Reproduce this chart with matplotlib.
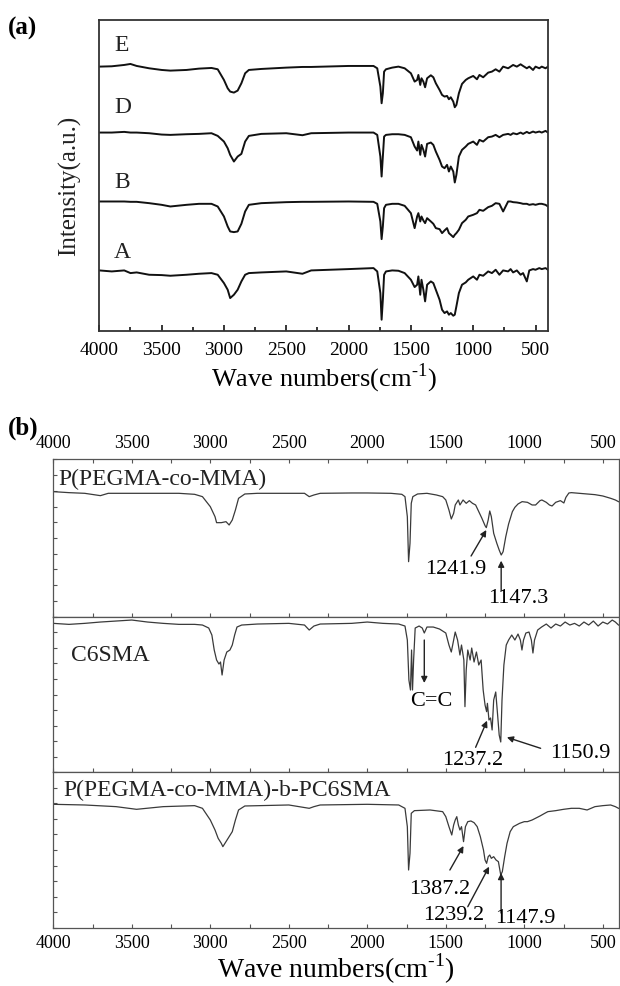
import matplotlib
matplotlib.use("Agg")
import numpy as np
import matplotlib.pyplot as plt
from matplotlib.ticker import MultipleLocator

plt.rcParams['font.family'] = ['Liberation Serif', 'DejaVu Serif']
plt.rcParams['mathtext.fontset'] = 'custom'
plt.rcParams['mathtext.rm'] = 'Liberation Serif'

# ---- (a) four samples, shared wavenumber grid, intensity (a.u.) relative to baseline
wn_a = [4000, 3900, 3800, 3750, 3700, 3600, 3500, 3430, 3300, 3200,
        3100, 3050, 3000, 2970, 2950, 2920, 2890, 2860, 2830, 2800,
        2700, 2500, 2370, 2300, 2000, 1800, 1770, 1745, 1735, 1725,
        1715, 1700, 1650, 1600, 1550, 1500, 1470, 1450, 1440, 1425,
        1415, 1400, 1386, 1370, 1340, 1320, 1300, 1270, 1250, 1230,
        1210, 1195, 1180, 1160, 1148, 1135, 1115, 1090, 1060, 1040,
        1000, 970, 950, 920, 880, 850, 820, 790, 760, 720,
        700, 680, 650, 620, 600, 570, 550, 520, 500, 470,
        450, 420, 400]

spec_E = [-2, -1, 3, 6, 0, -7, -12, -14, -12, -8,
          -6, -10, -42, -67, -77, -80, -74, -52, -22, -12,
          -9, -5, -3, -3, 0, 0, -7, -62, -112, -82,
          -17, -10, -5, -2, -7, -22, -47, -42, -27, -57,
          -37, -47, -64, -37, -28, -34, -52, -72, -87, -92,
          -90, -100, -94, -107, -124, -117, -82, -54, -42, -37,
          -30, -40, -27, -34, -20, -17, -10, -17, -2, -7,
          -2, 3, -2, 5, 0, -7, -2, -12, -2, -7,
          -2, -7, -2]
spec_D = [0, 0, 2, 0, 0, -2, -6, -7, -5, -4,
          -2, -10, -27, -47, -67, -87, -72, -64, -27, -10,
          -4, -2, -8, -2, 0, 0, -7, -72, -132, -72,
          -12, -7, -5, -5, -7, -14, -42, -54, -27, -67,
          -37, -52, -72, -34, -30, -37, -57, -82, -102, -107,
          -97, -117, -102, -117, -150, -127, -72, -52, -42, -34,
          -27, -37, -22, -27, -14, -12, -7, -14, -7, -4,
          -7, -2, -5, 0, -4, 2, -2, 3, 0, 3,
          0, 5, 0]
spec_B = [0, 0, 0, -1, -1, -5, -10, -15, -10, -7,
          -7, -15, -45, -75, -90, -92, -90, -67, -30, -10,
          -5, -2, -1, -1, 0, -1, -7, -60, -113, -75,
          -20, -10, -7, -7, -13, -35, -80, -45, -35, -60,
          -45, -57, -65, -50, -60, -67, -80, -83, -95, -87,
          -80, -95, -100, -107, -100, -95, -85, -65, -55, -45,
          -40, -35, -25, -28, -17, -13, -5, -7, -30, 0,
          0, -2, -3, -5, -7, -7, -10, -8, -10, -7,
          -7, -10, -15]
spec_A = [-2, -5, -2, -10, -8, -15, -16, -18, -15, -12,
          -10, -15, -40, -60, -85, -75, -60, -35, -15, -10,
          -8, -5, -12, -2, 2, 5, -5, -70, -150, -90,
          -15, -5, -2, -3, -10, -30, -52, -45, -20, -75,
          -30, -60, -95, -45, -35, -40, -60, -90, -120, -130,
          -125, -135, -130, -138, -135, -110, -70, -45, -38, -30,
          -20, -30, -15, -18, -5, -10, 0, -15, -2, -5,
          2, -8, -2, -15, -10, -35, -2, 2, 0, 5,
          2, 5, 0]
names_a = ['E', 'D', 'B', 'A']

# ---- (b) (wavenumber, intensity a.u.) pairs
pegma_mma = [
    (4000, 2), (3900, -1), (3800, -3), (3700, -10), (3650, -3), (3400, -3),
    (3200, -3), (3100, -6), (3050, -13), (3000, -43), (2970, -73), (2960, -91),
    (2930, -91), (2900, -88), (2880, -98), (2860, -83), (2840, -53), (2820, -18),
    (2780, -5), (2700, -3), (2500, -3), (2400, -3), (2370, -13), (2340, -8),
    (2300, -3), (2100, -2), (2000, -2), (1850, -3), (1780, -6), (1760, -13),
    (1745, -73), (1737, -208), (1728, -153), (1720, -33), (1710, -13), (1680, -5),
    (1620, -3), (1560, -8), (1520, -13), (1500, -23), (1480, -53), (1465, -80),
    (1450, -63), (1440, -38), (1420, -23), (1410, -38), (1390, -23), (1370, -33),
    (1350, -25), (1330, -33), (1310, -38), (1290, -58), (1270, -78), (1250, -100),
    (1242, -106), (1230, -83), (1220, -56), (1210, -73), (1195, -123), (1175, -153),
    (1160, -173), (1147, -188), (1135, -178), (1118, -133), (1100, -95), (1076, -58),
    (1060, -45), (1040, -35), (1014, -28), (980, -30), (950, -38), (928, -38),
    (900, -25), (888, -23), (860, -30), (840, -38), (823, -41), (800, -30),
    (770, -25), (748, -32), (735, -15), (716, -2), (700, -1), (650, -3),
    (600, -5), (550, -7), (500, -11), (450, -18), (420, -23), (400, -28)]
c6sma = [
    (4000, 0), (3900, -3), (3800, 0), (3700, 4), (3600, 7), (3500, 10),
    (3400, 4), (3300, 0), (3200, -3), (3100, -3), (3050, -5), (3010, -14),
    (2990, -35), (2975, -80), (2960, -110), (2945, -122), (2935, -116), (2925, -155),
    (2912, -110), (2895, -86), (2875, -80), (2860, -65), (2845, -35), (2830, -11),
    (2800, -5), (2700, -2), (2500, 0), (2400, -5), (2370, -20), (2340, -8),
    (2300, -2), (2100, 0), (2000, 4), (1900, 0), (1800, -2), (1760, -8),
    (1745, -50), (1735, -170), (1725, -200), (1718, -80), (1712, -200), (1705, -110),
    (1695, -14), (1670, -8), (1650, -14), (1637, -29), (1620, -11), (1580, -11),
    (1540, -17), (1500, -29), (1480, -65), (1465, -86), (1450, -50), (1440, -26),
    (1425, -50), (1410, -95), (1400, -65), (1385, -110), (1378, -250), (1370, -140),
    (1360, -80), (1345, -110), (1335, -74), (1320, -116), (1305, -86), (1290, -125),
    (1275, -110), (1262, -200), (1250, -245), (1240, -265), (1235, -240), (1225, -290),
    (1215, -284), (1205, -320), (1195, -230), (1182, -206), (1170, -275), (1160, -335),
    (1150, -356), (1142, -230), (1130, -125), (1115, -65), (1100, -50), (1080, -35),
    (1060, -50), (1040, -32), (1025, -50), (1015, -80), (1005, -50), (990, -29),
    (970, -26), (955, -50), (945, -89), (935, -50), (915, -20), (890, -11),
    (860, -2), (830, -14), (800, -2), (770, -8), (740, 4), (710, -5),
    (680, 0), (650, -8), (620, 4), (590, -5), (560, 7), (530, -8),
    (500, 4), (470, -2), (440, 10), (420, 4), (400, -5)]
block_copolymer = [
    (4000, 0), (3800, -2), (3600, -7), (3470, -15), (3300, -7), (3100, -4),
    (3050, -12), (3000, -47), (2970, -77), (2950, -102), (2930, -117), (2920, -127),
    (2900, -112), (2880, -97), (2860, -82), (2840, -47), (2820, -17), (2780, -5),
    (2500, -2), (2370, -12), (2340, -7), (2300, -2), (2000, 0), (1800, -2),
    (1760, -12), (1745, -67), (1737, -197), (1728, -147), (1720, -27), (1700, -19),
    (1600, -17), (1520, -22), (1500, -37), (1480, -67), (1462, -92), (1450, -62),
    (1440, -47), (1430, -37), (1420, -62), (1410, -77), (1400, -67), (1387, -112),
    (1375, -67), (1360, -52), (1340, -50), (1320, -55), (1300, -67), (1280, -97),
    (1260, -137), (1250, -167), (1240, -177), (1230, -157), (1220, -152), (1210, -162),
    (1195, -157), (1180, -167), (1165, -172), (1150, -212), (1140, -202), (1125, -157),
    (1110, -117), (1090, -82), (1070, -67), (1050, -62), (1030, -57), (1000, -52),
    (980, -52), (950, -47), (900, -35), (870, -27), (850, -22), (800, -19),
    (750, -15), (700, -12), (650, -12), (600, -17), (550, -7), (500, -4),
    (450, -2), (420, -7), (400, -12)]
names_b = ['P(PEGMA-co-MMA)', 'C6SMA', 'P(PEGMA-co-MMA)-b-PC6SMA']

# marked peaks (cm-1) per sub-panel
peaks_top = [1241.9, 1147.3]
peaks_mid = [1237.2, 1150.9]
peaks_bot = [1387.2, 1239.2, 1147.9]

W, H = 620, 986
fig = plt.figure(figsize=(W / 100, H / 100), dpi=100)
xlabel = r'Wave numbers(cm$^{\text{-1}}$)'

# ---------------- panel (a)
axa = fig.add_axes([99.3 / W, 1 - 330.7 / H, 448.7 / W, 310.7 / H])
offsets_a = [795, 595, 388, 183]
label_y_a = [855, 670, 444, 236]
for name, spec, off, ly in zip(names_a, [spec_E, spec_D, spec_B, spec_A], offsets_a, label_y_a):
    axa.plot(wn_a, np.array(spec) + off, color='#111111', lw=1.4, solid_joinstyle='round')
    axa.text(3880, ly, name, fontsize=17, va='center', ha='left', color='#222222')
axa.set_xlim(4000, 400)
axa.set_ylim(0, 933)
axa.set_yticks([])
axa.xaxis.set_major_locator(MultipleLocator(500))
axa.xaxis.set_minor_locator(MultipleLocator(250))
axa.tick_params(axis='x', which='both', direction='in', top=False, labelsize=14, pad=8)
axa.tick_params(axis='x', which='major', length=4, width=1.1)
axa.tick_params(axis='x', which='minor', length=3, width=1.1)
for s in axa.spines.values():
    s.set_linewidth(1.3)
    s.set_color('#333333')
axa.set_xlabel(xlabel, fontsize=19, labelpad=2)
fig.text(70 / W, 1 - 186 / H, 'Intensity(a.u.)', rotation=90, fontsize=18,
         ha='center', va='center', color='#222222')
fig.text(8 / W, 1 - 28 / H, '(a)', fontsize=18, fontweight='bold', va='center', ha='left')
fig.text(8 / W, 1 - 428 / H, '(b)', fontsize=18, fontweight='bold', va='center', ha='left')

# ---------------- panel (b): three stacked sub-panels
tops = [459.3, 616.7, 772.3, 927.7]
ylims = [(-373, 99), (-447, 20), (-370, 96)]
traces = [pegma_mma, c6sma, block_copolymer]
name_pos = [(3970, 40), (3887, -95), (3938, 41)]
axes_b = []
for i in range(3):
    ax = fig.add_axes([53.3 / W, 1 - tops[i + 1] / H, 565.2 / W, (tops[i + 1] - tops[i]) / H])
    wn, val = zip(*traces[i])
    ax.plot(wn, val, color='#3a3a3a', lw=0.9)
    ax.text(name_pos[i][0], name_pos[i][1], names_b[i], fontsize=17, va='center',
            ha='left', color='#222222')
    ax.set_xlim(4000, 400)
    ax.set_ylim(*ylims[i])
    ax.set_yticks(np.linspace(ylims[i][0], ylims[i][1], 11))
    ax.set_yticklabels([])
    ax.xaxis.set_major_locator(MultipleLocator(500))
    ax.xaxis.set_minor_locator(MultipleLocator(250))
    ax.tick_params(axis='both', which='both', direction='in', length=3, width=0.8,
                   color='#555555', labelsize=13, pad=5)
    ax.tick_params(axis='x', which='both', top=(i == 0), bottom=True,
                   labeltop=(i == 0), labelbottom=(i == 2))
    for s in ax.spines.values():
        s.set_linewidth(0.9)
        s.set_color('#555555')
    axes_b.append(ax)

arrow = dict(arrowstyle='-|>', color='#222222', lw=1.0, mutation_scale=9,
             shrinkA=0, shrinkB=0)

# top sub-panel
ax = axes_b[0]
ax.annotate('', xy=(peaks_top[0], -113), xytext=(1339, -191), arrowprops=arrow)
ax.text(1437, -232, f'{peaks_top[0]:.1f}', fontsize=16, ha='center', va='center')
ax.annotate('', xy=(peaks_top[1], -205), xytext=(peaks_top[1], -295), arrowprops=arrow)
ax.text(1037, -317, f'{peaks_top[1]:.1f}', fontsize=16, ha='center', va='center')

# middle sub-panel
ax = axes_b[1]
ax.annotate('', xy=(1637, -179), xytext=(1637, -50), arrowprops=arrow)
ax.text(1593, -236, 'C=C', fontsize=16, ha='center', va='center')
ax.annotate('', xy=(peaks_mid[0], -292), xytext=(1310, -372), arrowprops=arrow)
ax.text(1330, -413, f'{peaks_mid[0]:.1f}', fontsize=16, ha='center', va='center')
ax.annotate('', xy=(peaks_mid[1] - 40, -342), xytext=(896, -375), arrowprops=arrow)
ax.text(641, -391, f'{peaks_mid[1]:.1f}', fontsize=16, ha='center', va='center')

# bottom sub-panel
ax = axes_b[2]
ax.annotate('', xy=(peaks_bot[0], -125), xytext=(1474, -197), arrowprops=arrow)
ax.text(1542, -254, f'{peaks_bot[0]:.1f}', fontsize=16, ha='center', va='center')
ax.annotate('', xy=(peaks_bot[1] - 15, -187), xytext=(1360, -307), arrowprops=arrow)
ax.text(1447, -334, f'{peaks_bot[1]:.1f}', fontsize=16, ha='center', va='center')
ax.annotate('', xy=(peaks_bot[2], -206), xytext=(peaks_bot[2], -326), arrowprops=arrow)
ax.text(995, -341, f'{peaks_bot[2]:.1f}', fontsize=16, ha='center', va='center')
ax.set_xlabel(xlabel, fontsize=20, labelpad=0)

fig.savefig('out.png', dpi=100)
